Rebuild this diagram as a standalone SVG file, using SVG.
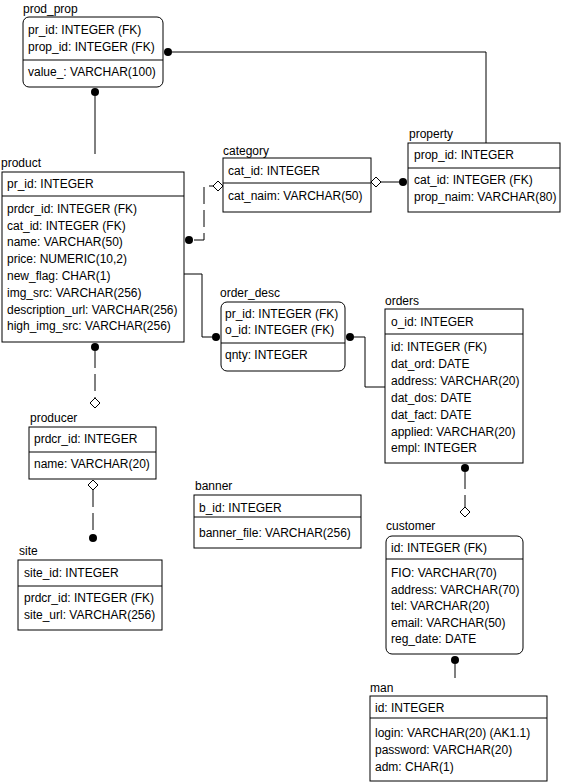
<svg xmlns="http://www.w3.org/2000/svg" width="565" height="783" viewBox="0 0 565 783">
<style>
text{font-family:"Liberation Sans",Arial,sans-serif;font-size:12px;fill:#000}
.b{fill:#fff;stroke:#000;stroke-width:1}
.l{fill:none;stroke:#000;stroke-width:1}
.d{fill:none;stroke:#000;stroke-width:1;stroke-dasharray:17 6}
.dot{fill:#000}
.dia{fill:#fff;stroke:#000;stroke-width:1}
</style>
<rect width="565" height="783" fill="#fff"/>
<g id="connectors">
<path class="l" d="M172 52H486V143"/>
<circle class="dot" cx="168" cy="52" r="4"/>
<path class="l" d="M95 96V154"/>
<circle class="dot" cx="95" cy="92" r="4"/>
<path class="d" d="M194 240H204V186H213"/>
<circle class="dot" cx="189" cy="240" r="4"/>
<path class="dia" d="M213 186L218 181L223 186L218 191Z"/>
<path class="l" d="M381 182H399"/>
<path class="dia" d="M371 182L376 177L381 182L376 187Z"/>
<circle class="dot" cx="403" cy="182" r="4"/>
<path class="l" d="M184 274H202V337H212"/>
<circle class="dot" cx="216" cy="337" r="4"/>
<path class="l" d="M354 337H365V387H385"/>
<circle class="dot" cx="350" cy="337" r="4"/>
<path class="d" d="M95 351V398"/>
<circle class="dot" cx="95" cy="347" r="4"/>
<path class="dia" d="M95 398L100 403L95 408L90 403Z"/>
<path class="d" d="M93 490V534"/>
<path class="dia" d="M93 480L98 485L93 490L88 485Z"/>
<circle class="dot" cx="93" cy="538" r="4"/>
<path class="d" d="M465 472V507"/>
<circle class="dot" cx="465" cy="468" r="4"/>
<path class="dia" d="M465 507L470 512L465 517L460 512Z"/>
<path class="l" d="M455 664V678"/>
<circle class="dot" cx="455" cy="660" r="4"/>
</g>
<g id="prod_prop">
<text x="23" y="13">prod_prop</text>
<rect class="b" x="23" y="17" width="140" height="70" rx="6"/>
<path class="l" d="M23 60H163"/>
<text x="28" y="34">pr_id: INTEGER (FK)</text>
<text x="28" y="51">prop_id: INTEGER (FK)</text>
<text x="28" y="76">value_: VARCHAR(100)</text>
</g>
<g id="product">
<text x="1" y="167">product</text>
<rect class="b" x="2" y="172" width="182" height="170"/>
<path class="l" d="M2 196H184"/>
<text x="7" y="188">pr_id: INTEGER</text>
<text x="7" y="213">prdcr_id: INTEGER (FK)</text>
<text x="7" y="230">cat_id: INTEGER (FK)</text>
<text x="7" y="246">name: VARCHAR(50)</text>
<text x="7" y="263">price: NUMERIC(10,2)</text>
<text x="7" y="280">new_flag: CHAR(1)</text>
<text x="7" y="297">img_src: VARCHAR(256)</text>
<text x="7" y="314">description_url: VARCHAR(256)</text>
<text x="7" y="330">high_img_src: VARCHAR(256)</text>
</g>
<g id="category">
<text x="223" y="155">category</text>
<rect class="b" x="223" y="158" width="148" height="54"/>
<path class="l" d="M223 183H371"/>
<text x="228" y="175">cat_id: INTEGER</text>
<text x="228" y="200">cat_naim: VARCHAR(50)</text>
</g>
<g id="property">
<text x="409" y="138">property</text>
<rect class="b" x="408" y="143" width="152" height="69"/>
<path class="l" d="M408 168H560"/>
<text x="414" y="159">prop_id: INTEGER</text>
<text x="414" y="184">cat_id: INTEGER (FK)</text>
<text x="414" y="201">prop_naim: VARCHAR(80)</text>
</g>
<g id="order_desc">
<text x="220" y="297">order_desc</text>
<rect class="b" x="221" y="302" width="124" height="69" rx="6"/>
<path class="l" d="M221 343H345"/>
<text x="225" y="318">pr_id: INTEGER (FK)</text>
<text x="225" y="334">o_id: INTEGER (FK)</text>
<text x="225" y="359">qnty: INTEGER</text>
</g>
<g id="orders">
<text x="385" y="305">orders</text>
<rect class="b" x="385" y="309" width="138" height="154"/>
<path class="l" d="M385 334H523"/>
<text x="391" y="326">o_id: INTEGER</text>
<text x="391" y="351">id: INTEGER (FK)</text>
<text x="391" y="368">dat_ord: DATE</text>
<text x="391" y="385">address: VARCHAR(20)</text>
<text x="391" y="402">dat_dos: DATE</text>
<text x="391" y="419">dat_fact: DATE</text>
<text x="391" y="436">applied: VARCHAR(20)</text>
<text x="391" y="452">empl: INTEGER</text>
</g>
<g id="producer">
<text x="30" y="422">producer</text>
<rect class="b" x="29" y="427" width="127" height="52"/>
<path class="l" d="M29 452H156"/>
<text x="34" y="443">prdcr_id: INTEGER</text>
<text x="34" y="468">name: VARCHAR(20)</text>
</g>
<g id="banner">
<text x="195" y="490">banner</text>
<rect class="b" x="194" y="495" width="167" height="53"/>
<path class="l" d="M194 517H361"/>
<text x="199" y="512">b_id: INTEGER</text>
<text x="199" y="537">banner_file: VARCHAR(256)</text>
</g>
<g id="site">
<text x="19" y="555">site</text>
<rect class="b" x="18" y="560" width="144" height="70"/>
<path class="l" d="M18 586H162"/>
<text x="24" y="577">site_id: INTEGER</text>
<text x="24" y="602">prdcr_id: INTEGER (FK)</text>
<text x="24" y="619">site_url: VARCHAR(256)</text>
</g>
<g id="customer">
<text x="386" y="530">customer</text>
<rect class="b" x="386" y="536" width="137" height="118" rx="6"/>
<path class="l" d="M386 559H523"/>
<text x="391" y="552">id: INTEGER (FK)</text>
<text x="391" y="577">FIO: VARCHAR(70)</text>
<text x="391" y="594">address: VARCHAR(70)</text>
<text x="391" y="610">tel: VARCHAR(20)</text>
<text x="391" y="627">email: VARCHAR(50)</text>
<text x="391" y="643">reg_date: DATE</text>
</g>
<g id="man">
<text x="370" y="692">man</text>
<rect class="b" x="370" y="696" width="177" height="85"/>
<path class="l" d="M370 718H547"/>
<text x="375" y="712">id: INTEGER</text>
<text x="375" y="737">login: VARCHAR(20) (AK1.1)</text>
<text x="375" y="754">password: VARCHAR(20)</text>
<text x="375" y="771">adm: CHAR(1)</text>
</g>
</svg>
